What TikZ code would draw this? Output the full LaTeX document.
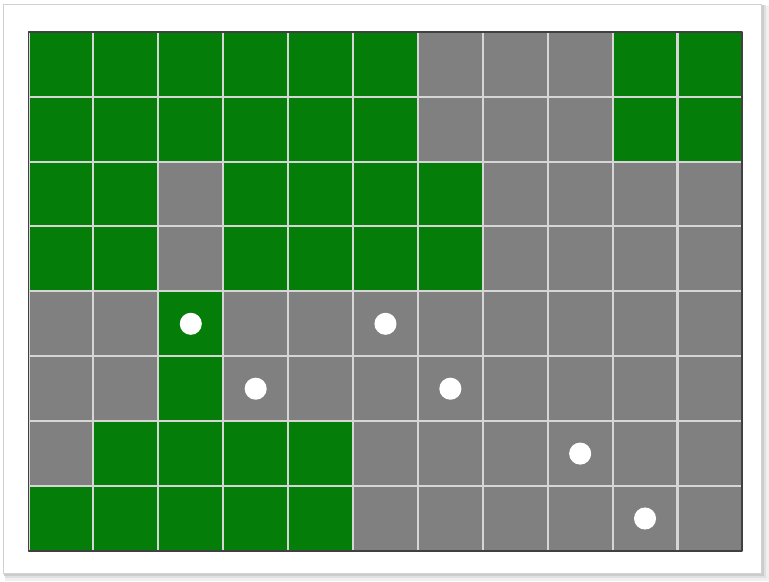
\documentclass[tikz,border=0pt]{standalone}
\usepackage{tikz}
\definecolor{cellgreen}{RGB}{4,126,8}
\definecolor{cellgrey}{RGB}{128,128,128}
\definecolor{gridline}{RGB}{214,214,214}
\tikzset{dotmark/.style={fill=white,draw=none}}

\begin{document}
\begin{tikzpicture}[line join=round]
\useasboundingbox (-0.44,-0.47) rectangle (11.41,8.49);
% --- frame with shadow
\fill[black!6] (-0.36,-0.46) rectangle (11.41,8.40);
\fill[black!12] (-0.37,-0.42) rectangle (11.37,8.41);
\fill[black!20] (-0.38,-0.38) rectangle (11.33,8.41);
\draw[black!18,fill=white] (-0.39,-0.35) rectangle (11.30,8.42);
% --- cells: grey everywhere, green by row (counted from the top)
\fill[cellgrey] (0,0) rectangle (11,8);
\foreach \r/\cols in {0/{0,1,2,3,4,5,9,10},1/{0,1,2,3,4,5,9,10},2/{0,1,3,4,5,6},3/{0,1,3,4,5,6},4/{2},5/{2},6/{1,2,3,4},7/{0,1,2,3,4}}
  \foreach \c in \cols
    \fill[cellgreen] (\c,7-\r) rectangle ++(1,1);
% --- grid
\draw[gridline,line width=0.9pt] (0,0) grid (11,8);
\draw[black!75,line width=0.8pt] (0,0) rectangle (11,8);
% --- dots
\foreach \c/\r in {2/4,5/4,3/5,6/5,8/6,9/7}
  \fill[dotmark] (\c+0.5,7.5-\r) circle (0.17);
\end{tikzpicture}
\end{document}
